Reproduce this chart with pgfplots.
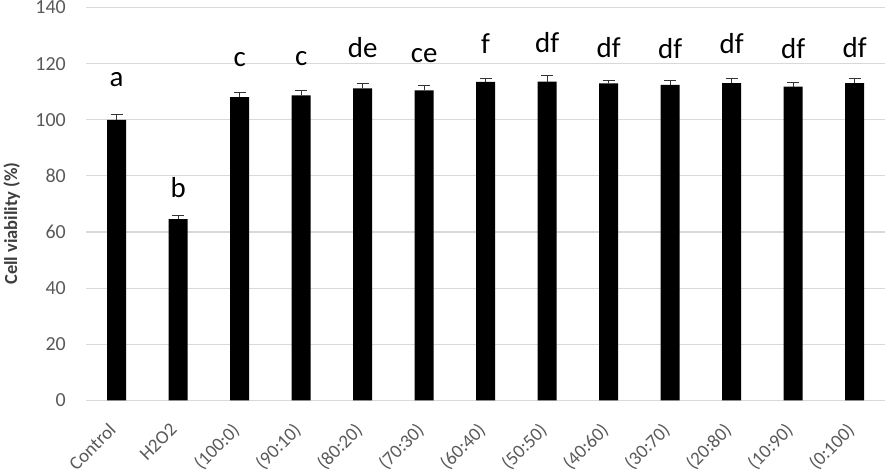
\documentclass[border=0pt]{standalone}
\usepackage{pgfplots}
\pgfplotsset{compat=1.18}
\usepackage{fontspec}
\setmainfont{Carlito}
\definecolor{tickgray}{HTML}{595959}
\definecolor{gridgray}{HTML}{D9D9D9}
\begin{document}
\begin{tikzpicture}
\begin{axis}[
  scale only axis,
  width=802pt, height=394pt,
  xmin=-0.5, xmax=12.5,
  ymin=0, ymax=140,
  ytick={0,20,...,140},
  xtick={0,...,12},
  xticklabels={Control,H2O2,(100:0),(90:10),(80:20),(70:30),(60:40),(50:50),(40:60),(30:70),(20:80),(10:90),(0:100)},
  x tick label style={xshift=-9pt, yshift=-20pt, rotate=45, anchor=north east, font=\fontsize{19}{22}\selectfont, text=tickgray, inner sep=1pt},
  y tick label style={font=\fontsize{20}{23}\selectfont, text=tickgray, inner sep=1pt, xshift=-19pt},
  /pgf/number format/assume math mode=true,
  ymajorgrids, grid style={gridgray, line width=1.2pt},
  major tick length=0pt,
  axis line style={draw=none},
  ylabel={Cell viability (\%)},
  ylabel style={font=\fontsize{18.5}{21}\selectfont\bfseries, text=tickgray!70!black, at={(ticklabel cs:0.45)}},
  ylabel shift=11pt,
  clip=false,
]
\draw[gridgray, line width=1.2pt] (axis cs:-0.5,0) -- (axis cs:12.5,0);
\addplot[ybar, bar width=19pt, fill=black, draw=none,
  error bars/.cd, y dir=plus, y explicit,
  error bar style={black!80, line width=1pt},
  error mark options={rotate=90, mark size=6pt, black!80, line width=1pt}]
  table[x=x, y=y, y error=e] {
x y e
0 100.0 1.7
1 64.6 1.1
2 108.1 1.5
3 108.7 1.6
4 111.2 1.6
5 110.5 1.6
6 113.5 1.1
7 113.6 2.3
8 113.0 1.0
9 112.4 1.6
10 113.1 1.5
11 111.8 1.6
12 113.1 1.5
};
\node[anchor=base, font=\fontsize{29}{32}\selectfont] at (axis cs:0,111.7) {a};
\node[anchor=base, font=\fontsize{29}{32}\selectfont] at (axis cs:1,72.4) {b};
\node[anchor=base, font=\fontsize{29}{32}\selectfont] at (axis cs:2,119.0) {c};
\node[anchor=base, font=\fontsize{29}{32}\selectfont] at (axis cs:3,119.2) {c};
\node[anchor=base, font=\fontsize{29}{32}\selectfont] at (axis cs:4,122.3) {de};
\node[anchor=base, font=\fontsize{29}{32}\selectfont] at (axis cs:5,120.5) {ce};
\node[anchor=base, font=\fontsize{29}{32}\selectfont] at (axis cs:6,123.7) {f};
\node[anchor=base, font=\fontsize{29}{32}\selectfont] at (axis cs:7,124.0) {df};
\node[anchor=base, font=\fontsize{29}{32}\selectfont] at (axis cs:8,122.2) {df};
\node[anchor=base, font=\fontsize{29}{32}\selectfont] at (axis cs:9,121.8) {df};
\node[anchor=base, font=\fontsize{29}{32}\selectfont] at (axis cs:10,123.7) {df};
\node[anchor=base, font=\fontsize{29}{32}\selectfont] at (axis cs:11,121.9) {df};
\node[anchor=base, font=\fontsize{29}{32}\selectfont] at (axis cs:12,122.2) {df};
\end{axis}
\end{tikzpicture}
\end{document}
